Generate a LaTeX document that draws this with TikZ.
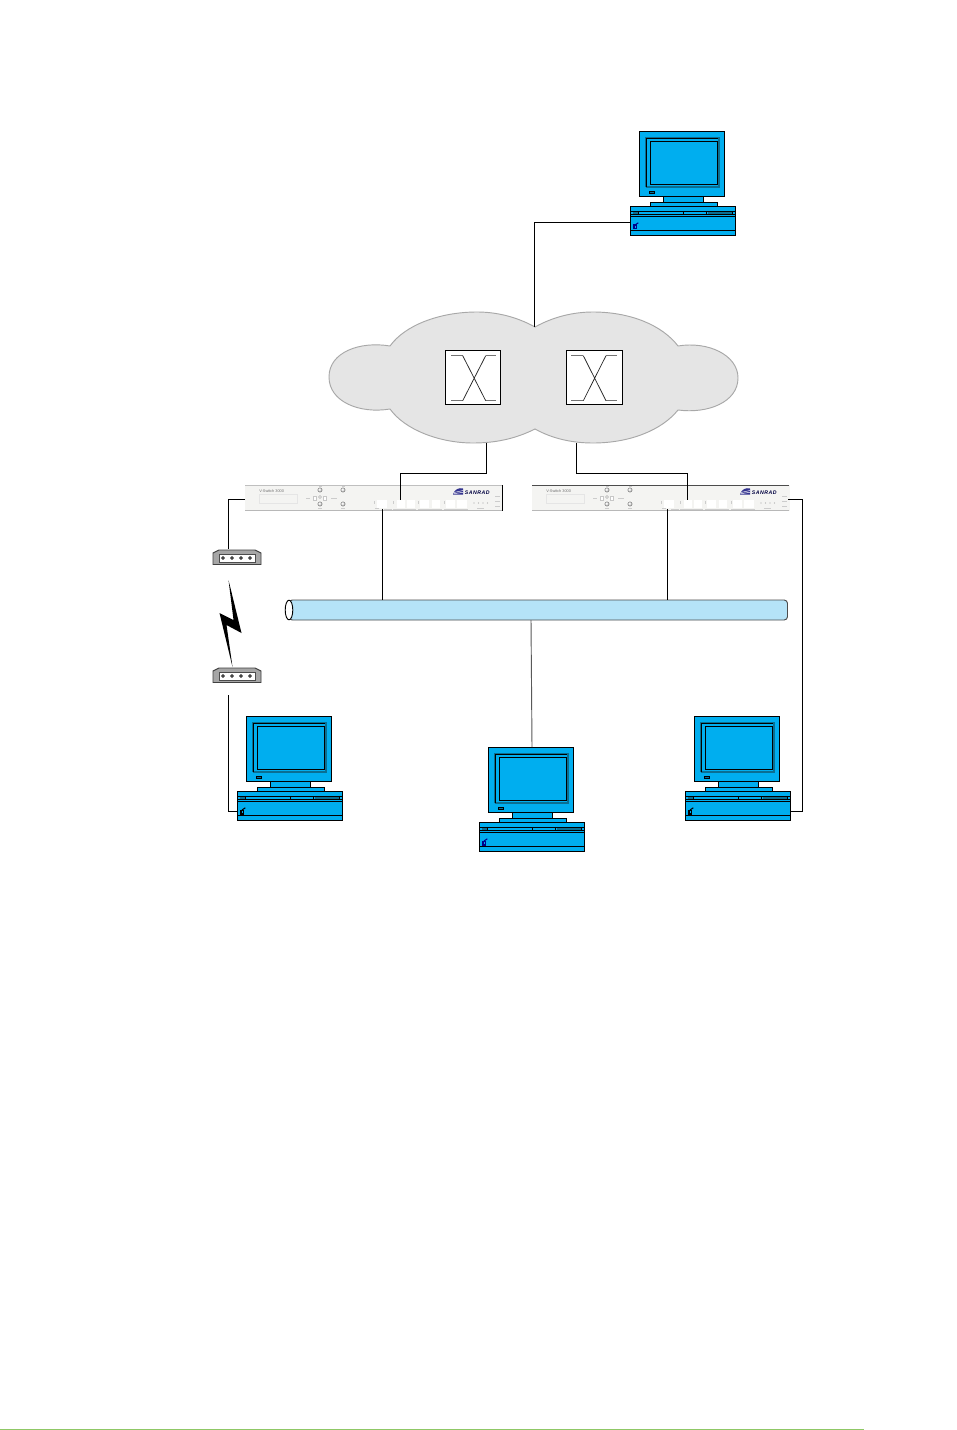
\documentclass[tikz,border=0pt]{standalone}
\usepackage{fontspec}
\setmainfont{Liberation Sans}
\newfontfamily\brandfont[LetterSpace=10]{Liberation Sans}
\definecolor{pcblue}{HTML}{00AEEF}
\definecolor{pcshade}{HTML}{0A6F92}
\definecolor{busblue}{HTML}{B5E3F8}
\definecolor{cloudfill}{HTML}{E5E5E5}
\definecolor{cloudline}{HTML}{A8A8A8}
\definecolor{panel}{HTML}{F4F4F2}
\definecolor{panelmark}{HTML}{CCCCCC}
\definecolor{rulegreen}{HTML}{8FC866}
\tikzset{
  wire/.style={draw=black,line width=0.7pt},
  pcpart/.style={draw=black,fill=pcblue,line width=0.7pt},
  pcline/.style={draw=black,line width=0.6pt},
  pccase/.style={pcpart,rectangle,minimum width=79pt,minimum height=22pt,inner sep=0pt,outer sep=0pt},
  xbox/.style={draw=black,fill=white,line width=0.7pt,rectangle,minimum width=41.6pt,minimum height=40.8pt,inner sep=0pt,outer sep=0pt},
  xline/.style={draw=black!85,line width=0.55pt},
  xend/.style={draw=black!55,line width=0.7pt},
  devbody/.style={rectangle,fill=panel,minimum width=193.5pt,minimum height=19.5pt,inner sep=0pt,outer sep=0pt},
  panelbit/.style={fill=panelmark},
  routerbody/.style={draw=black!75,fill=black!35,line width=0.7pt},
}
% #1 name, #2 x, #3 y of case's top-left, #4 glyph colour
\newcommand{\pcicon}[4]{%
  \begin{scope}[shift={(#2,#3)}]
    \draw[pcpart] (9.7,-75) rectangle (94.7,-10);
    \draw[draw=pcshade,line width=1pt] (16,-19) -- (16,-68) -- (89,-68) -- (89,-19) -- (16,-19);
    \draw[draw=black,line width=0.5pt] (16,-19) -- (16,-68) -- (88,-68);
    \draw[draw=black,line width=0.65pt] (20,-65) rectangle (87,-22);
    \draw[fill=pcshade,draw=black,line width=0.5pt] (19,-15) rectangle (24,-12.5);
    \draw[pcpart] (33,-10) rectangle (73,-4);
    \draw[pcpart] (20,-4) rectangle (87,0);
    \node[pccase] (#1) at (53,15) {};
    \fill[pcshade] (78,5.3) rectangle (102,8);
    \fill[pcshade] (3,5.3) rectangle (8,8);
    \draw[pcline] (0,5.3) -- (106,5.3);
    \draw[pcline] (0,8) -- (106,8);
    \draw[pcline] (0,10.8) -- (106,10.8);
    \draw[pcline] (0,24.3) -- (106,24.3);
    \draw[pcline,line width=0.5pt] (8,5.3) -- (8,8) (53,5.3) -- (53,8) (76.5,5.3) -- (76.5,8) (102,5.3) -- (102,8);
    \fill[#4] (3.4,18.5) rectangle (7.4,23.5);
    \draw[#4,line width=0.8pt] (5,19) -- (8.3,16.8);
    \fill[pcblue] (4.8,20) rectangle (6.2,22);
    \coordinate (#1port) at (0,16);
    \coordinate (#1low) at (0,20);
    \coordinate (#1lowr) at (106,20);
    \coordinate (#1top) at (53,-75);
  \end{scope}}
% #1 name, #2 x offset, #3 top edge colour, #4 right edge colour
\newcommand{\devicon}[4]{%
  \begin{scope}[shift={(#2,0)}]
    \node[devbody] (#1) at (374,498) {};
    \fill[black!28] (245,510) rectangle (503,511.2);
    \draw[#3,line width=0.5pt] (245,485) -- (503,485);
    \draw[#4,line width=0.8pt] (502.6,485) -- (502.6,511);
    \node[anchor=west,inner sep=0pt,text=black!55,font=\fontsize{2.9}{3.4}\selectfont] (#1name) at (259,491) {V-Switch 3000};
    \draw[black!10,line width=0.4pt] (259,494) rectangle (297,503);
    \foreach \cx/\cy in {320/490,343/490,320/504,343/504}{
      \shade[ball color=black!8] (\cx,\cy) circle (2.4);}
    \foreach \cx/\cy in {315/498,325/498}{
      \draw[black!22,line width=0.5pt,fill=white] (\cx-1.8,\cy-2) rectangle (\cx+1.8,\cy+2);}
    \draw[black!30,line width=0.4pt] (320,497) circle (1.6);
    \foreach \mx/\my/\mw in {320/486.5/3,343/486.5/3,308/498/4,334/498/6,320/508/4,343/508/4,
       377/508/4,480/508/7,497.5/496/5,497.5/501/5,497.5/506/5}{
      \fill[panelbit] (\mx-\mw/2,\my-0.5) rectangle (\mx+\mw/2,\my+0.5);}
    \fill[white] (377,500) rectangle (387,508);
    \foreach \px/\pw in {397/8,407/8,420/9,432/8,446/9,457/10}{
      \fill[white] (\px,500) rectangle (\px+\pw,508);}
    \foreach \px in {374,393,418,444}{
      \fill[panelbit] (\px-0.5,500.5) rectangle (\px+0.5,504);}
    \foreach \lx/\ly in {384/392,393/416,418/442,444/468}{
      \fill[panelbit] (\lx,508.6) rectangle (\ly,509.2);}
    \foreach \dx in {474,478.5,483,487.5}{
      \fill[black!35] (\dx,503) circle (0.7);}
    \fill[blue!45!black!80] (453,494.5) .. controls (454.5,489) and (459,487.5) .. (463,488.5) -- (463,494.5) -- cycle;
    \draw[white,line width=0.35pt] (454,492.5) -- (463,490.5) (454,493.7) -- (463,492.3);
    \node[anchor=west,inner sep=0pt,text=black!75!blue,font=\brandfont\bfseries\itshape\fontsize{3.9}{4.5}\selectfont] (#1brand) at (464.5,492.5) {SANRAD};
  \end{scope}}
% #1 name, #2 top y
\newcommand{\routericon}[2]{%
  \begin{scope}[shift={(213,#2)}]
    \draw[routerbody] (0,15.5) -- (0,4) -- (6,1) -- (42,1) -- (48,4) -- (48,15.5) -- cycle;
    \draw[draw=black!70,fill=white,line width=0.4pt] (6,5.3) rectangle (42,13);
    \foreach \hx in {10,19,28,37}{
      \draw[black,fill=white,line width=0.6pt] (\hx,9) circle (1.4);}
    \coordinate (#1top) at (15,0);
    \coordinate (#1bot) at (15,28);
  \end{scope}}
\begin{document}
\begin{tikzpicture}[x=0.75pt,y=-0.75pt]
\useasboundingbox (0,0) rectangle (956,1430);
\fill[white] (0,0) rectangle (956,1430);

% cloud
\draw[fill=cloudfill,draw=cloudline,line width=0.7pt]
  (535,327) .. controls (515,316) and (495,312) .. (477,312)
  .. controls (440,312) and (405,325) .. (390,346)
  .. controls (360,341) and (329,352) .. (329,377)
  .. controls (329,402) and (360,414) .. (390,409)
  .. controls (405,430) and (440,443) .. (473,443)
  .. controls (495,443) and (515,439) .. (535,429)
  .. controls (553,439) and (573,443) .. (593,443)
  .. controls (630,443) and (662,430) .. (678,410)
  .. controls (708,414) and (738,402) .. (738,378)
  .. controls (738,355) and (708,341) .. (678,346)
  .. controls (662,325) and (630,312) .. (593,312)
  .. controls (573,312) and (553,317) .. (535,327) -- cycle;
\coordinate (cloudtop) at (534.5,327);
\coordinate (cloudL) at (486.5,443);
\coordinate (cloudR) at (576.5,443);

% switches
\node[xbox] (sw1) at (473.2,377.7) {};
\draw[xend] (451,355.7) -- (462.7,355.7) (451,400.7) -- (462.7,400.7) (485.7,355.7) -- (496,355.7) (485.7,400.7) -- (496,400.7);
\draw[xline] (462.7,355.7) -- (485.7,400.7) (462.7,400.7) -- (485.7,355.7);
\node[xbox] (sw2) at (594.5,377.7) {};
\draw[xend] (571,355.7) -- (583.3,355.7) (571,400.7) -- (583.3,400.7) (606,355.7) -- (617.3,355.7) (606,400.7) -- (617.3,400.7);
\draw[xline] (583.3,355.7) -- (606,400.7) (583.3,400.7) -- (606,355.7);

% devices
\devicon{dev1}{0}{black!25}{black}
\devicon{dev2}{287}{black!70}{panel}
\coordinate (dev1up) at (400.5,500);
\coordinate (dev2up) at (687.5,500);
\coordinate (dev1dn) at (382.5,509);
\coordinate (dev2dn) at (667,509);
\coordinate (dev1side) at (245,499.5);
\coordinate (dev2side) at (788,499.5);
\coordinate (dev2out) at (802,499.5);
\coordinate (cloudLk) at (400.5,473);
\coordinate (cloudRk) at (687.5,473);

% bus
\draw[fill=busblue,draw=black!70,line width=0.7pt,rounded corners=2.5pt]
  (289,600) -- (787.5,600) -- (787.5,620) -- (289,620) -- cycle;
\draw[fill=white,draw=black,line width=0.7pt] (289,610) ellipse[x radius=3.8,y radius=9.8];
\coordinate (busA) at (382.5,600);
\coordinate (busB) at (667,600);
\coordinate (busC) at (531,620);

% routers and radio link
\routericon{r1}{549}
\routericon{r2}{667}
\fill[black] (228.5,580) -- (241.5,633) -- (226.5,625) -- (232.5,667) -- (219.5,613) -- (233.5,620) -- cycle;

% computers
\pcicon{pctop}{630}{206}{blue!55!black}
\pcicon{pcleft}{237}{791}{black}
\pcicon{pcmid}{479}{822}{blue!55!black}
\pcicon{pcright}{685}{791}{black}

% connectors
\draw[wire] (pctopport) -| (cloudtop);
\draw[wire] (cloudL) |- (cloudLk) -- (dev1up);
\draw[wire] (cloudR) |- (cloudRk) -- (dev2up);
\draw[wire] (dev1dn) -- (busA);
\draw[wire] (dev2dn) -- (busB);
\draw[wire,draw=black!65] (busC) -- (pcmidtop);
\draw[wire] (dev1side) -| (r1top);
\draw[wire] (r2bot) |- (pcleftlow);
\draw[wire] (dev2side) -- (dev2out) |- (pcrightlowr);

% bottom rule
\draw[rulegreen,line width=1.1pt] (0,1429.3) -- (864,1429.3);
\end{tikzpicture}
\end{document}
